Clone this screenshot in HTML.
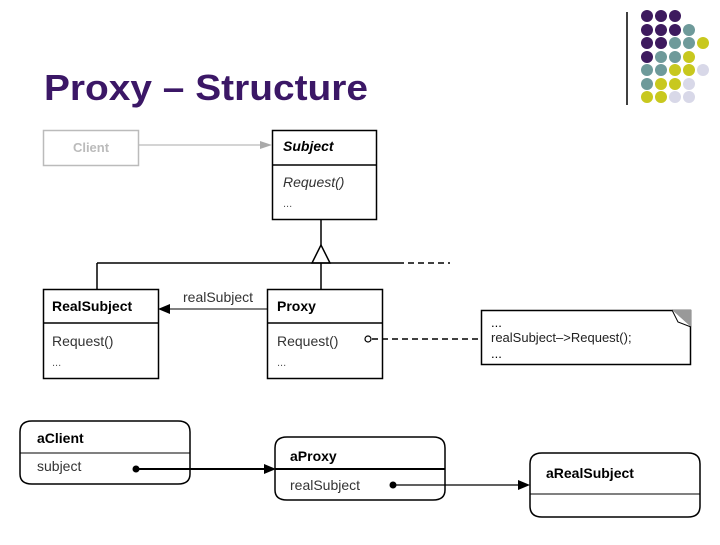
<!DOCTYPE html>
<html><head><style>
body{margin:0;width:720px;height:540px;background:#fff;overflow:hidden;font-family:"Liberation Sans",sans-serif}
</style></head><body>
<svg width="720" height="540" xmlns="http://www.w3.org/2000/svg" font-family="Liberation Sans, sans-serif">
<text x="44" y="100" font-size="36" font-weight="bold" fill="#3b1766" textLength="324" lengthAdjust="spacingAndGlyphs">Proxy – Structure</text>
<line x1="627" y1="12" x2="627" y2="105" stroke="#000" stroke-width="1.5"/>
<g>
<circle cx="647" cy="16" r="6" fill="#3d1a5e"/><circle cx="661" cy="16" r="6" fill="#3d1a5e"/><circle cx="675" cy="16" r="6" fill="#3d1a5e"/>
<circle cx="647" cy="30" r="6" fill="#3d1a5e"/><circle cx="661" cy="30" r="6" fill="#3d1a5e"/><circle cx="675" cy="30" r="6" fill="#3d1a5e"/><circle cx="689" cy="30" r="6" fill="#6e9a9a"/>
<circle cx="647" cy="43" r="6" fill="#3d1a5e"/><circle cx="661" cy="43" r="6" fill="#3d1a5e"/><circle cx="675" cy="43" r="6" fill="#6e9a9a"/><circle cx="689" cy="43" r="6" fill="#6e9a9a"/><circle cx="703" cy="43" r="6" fill="#c8c81e"/>
<circle cx="647" cy="57" r="6" fill="#3d1a5e"/><circle cx="661" cy="57" r="6" fill="#6e9a9a"/><circle cx="675" cy="57" r="6" fill="#6e9a9a"/><circle cx="689" cy="57" r="6" fill="#c8c81e"/>
<circle cx="647" cy="70" r="6" fill="#6e9a9a"/><circle cx="661" cy="70" r="6" fill="#6e9a9a"/><circle cx="675" cy="70" r="6" fill="#c8c81e"/><circle cx="689" cy="70" r="6" fill="#c8c81e"/><circle cx="703" cy="70" r="6" fill="#d8d8e8"/>
<circle cx="647" cy="84" r="6" fill="#6e9a9a"/><circle cx="661" cy="84" r="6" fill="#c8c81e"/><circle cx="675" cy="84" r="6" fill="#c8c81e"/><circle cx="689" cy="84" r="6" fill="#d8d8e8"/>
<circle cx="647" cy="97" r="6" fill="#c8c81e"/><circle cx="661" cy="97" r="6" fill="#c8c81e"/><circle cx="675" cy="97" r="6" fill="#d8d8e8"/><circle cx="689" cy="97" r="6" fill="#d8d8e8"/>
</g>
<g fill="none" stroke="#000" stroke-width="1.5">
<rect x="43.5" y="130.5" width="95" height="35" stroke="#bbb"/>
<line x1="139" y1="145" x2="262" y2="145" stroke="#aaa" stroke-width="1"/>
<rect x="272.5" y="130.5" width="104" height="89"/>
<line x1="272" y1="165" x2="377" y2="165"/>
<line x1="321" y1="219" x2="321" y2="245"/>
<polygon points="321,245 312,263 330,263" fill="#fff"/>
<line x1="97" y1="263" x2="398" y2="263"/>
<line x1="398" y1="263" x2="450" y2="263" stroke-dasharray="6,4"/>
<line x1="97" y1="263" x2="97" y2="289"/>
<line x1="321" y1="263" x2="321" y2="289"/>
<rect x="43.5" y="289.5" width="115" height="89"/>
<line x1="43" y1="323" x2="158" y2="323"/>
<rect x="267.5" y="289.5" width="115" height="89"/>
<line x1="267" y1="323" x2="382" y2="323"/>
<line x1="170" y1="309" x2="267" y2="309" stroke-width="1"/>
<line x1="372" y1="339" x2="481" y2="339" stroke-dasharray="6,4"/>
<circle cx="368" cy="339" r="3" fill="#fff" stroke-width="1.2"/>
<rect x="481.5" y="310.5" width="209" height="54"/>
<path d="M20,432 Q20,421 32,421 L178,421 Q190,421 190,432 L190,474 Q190,484 178,484 L32,484 Q20,484 20,474 Z"/>
<line x1="20" y1="453" x2="190" y2="453" stroke-width="1"/>
<path d="M275,448 Q275,437 287,437 L433,437 Q445,437 445,448 L445,490 Q445,500 433,500 L287,500 Q275,500 275,490 Z"/>
<line x1="275" y1="469" x2="445" y2="469" stroke-width="2"/>
<path d="M530,464 Q530,453 542,453 L688,453 Q700,453 700,464 L700,506 Q700,517 688,517 L542,517 Q530,517 530,506 Z"/>
<line x1="530" y1="494" x2="700" y2="494" stroke-width="1"/>
<line x1="136" y1="469" x2="265" y2="469" stroke-width="2"/>
<line x1="393" y1="485" x2="520" y2="485" stroke-width="1.2"/>
</g>
<polygon points="260,141 272,145 260,149" fill="#aaa"/>
<polygon points="158,309 170,304 170,314" fill="#000"/>
<polygon points="672,310 691,310 691,327" fill="#999"/>
<polyline points="672,310 678,322 691,327" fill="#fff" stroke="#000" stroke-width="1"/>
<circle cx="136" cy="469" r="3.5" fill="#000"/>
<polygon points="264,464 276,469 264,474" fill="#000"/>
<circle cx="393" cy="485" r="3.5" fill="#000"/>
<polygon points="518,480 530,485 518,490" fill="#000"/>
<g font-size="14">
<text x="91" y="152" text-anchor="middle" fill="#bbb" font-weight="bold" font-size="13">Client</text>
<text x="283" y="151" font-weight="bold" font-style="italic">Subject</text>
<text x="283" y="187" font-style="italic" fill="#333">Request()</text>
<text x="283" y="207" fill="#555" font-size="11">...</text>
<text x="52" y="311" font-weight="bold">RealSubject</text>
<text x="52" y="346" fill="#333">Request()</text>
<text x="52" y="366" fill="#555" font-size="11">...</text>
<text x="277" y="311" font-weight="bold">Proxy</text>
<text x="277" y="346" fill="#333">Request()</text>
<text x="277" y="366" fill="#555" font-size="11">...</text>
<text x="183" y="302" fill="#333">realSubject</text>
<text x="491" y="327" font-size="13">...</text>
<text x="491" y="342" font-size="13" fill="#222">realSubject–&gt;Request();</text>
<text x="491" y="358" font-size="13">...</text>
<text x="37" y="443" font-weight="bold">aClient</text>
<text x="37" y="471" fill="#333">subject</text>
<text x="290" y="461" font-weight="bold">aProxy</text>
<text x="290" y="490" fill="#333">realSubject</text>
<text x="546" y="478" font-weight="bold">aRealSubject</text>
</g>
</svg>
</body></html>
